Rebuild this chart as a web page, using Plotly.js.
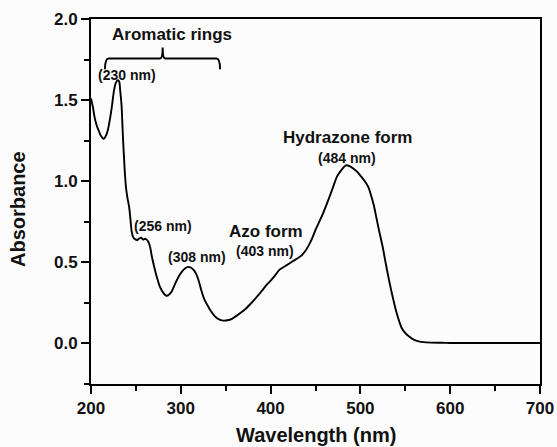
<!DOCTYPE html>
<html>
<head>
<meta charset="utf-8">
<script src="https://cdn.plot.ly/plotly-3.0.1.min.js"></script>
<style>
  html, body { margin: 0; padding: 0; background: #fcfcfc; }
  #chart { width: 557px; height: 447px; }
</style>
</head>
<body>
<div id="chart"></div>
<script>
// UV-Vis absorption spectrum: wavelength (nm) vs absorbance
const wavelength = [
  200, 202, 204, 206, 208, 211, 214, 217, 219, 221, 223, 225.5, 227.5, 230, 231.5,
  232.5, 234, 235.6, 237.5, 239, 240.5, 242.5, 244, 245.3, 247, 249, 251.5, 253.5,
  256, 258, 260, 262, 264, 266, 268, 270.5, 273, 276, 279, 282, 284.3, 287, 290,
  293, 296, 299, 302, 305, 308, 311, 314, 317, 320, 323, 326, 330, 334, 338, 342,
  347, 352, 357, 362, 367, 372, 377, 382, 387, 392, 397, 401, 405, 410, 416, 420,
  425, 430, 434, 438, 442, 446, 450, 455, 459, 464, 469, 474, 479, 482, 484, 488,
  492, 497, 501, 505, 509, 512, 515, 518, 521, 525, 528, 531, 534, 537, 540, 543,
  546, 550, 555, 560, 565, 570, 578, 590, 600, 620, 640, 660, 680, 700
];
const absorbance = [
  1.51, 1.46, 1.395, 1.35, 1.32, 1.28, 1.262, 1.285, 1.32, 1.38, 1.45, 1.555, 1.605, 1.622, 1.612,
  1.56, 1.47, 1.27, 1.07, 0.96, 0.90, 0.84, 0.76, 0.69, 0.655, 0.643, 0.638, 0.646,
  0.652, 0.640, 0.645, 0.640, 0.625, 0.59, 0.53, 0.47, 0.415, 0.36, 0.325, 0.302, 0.294, 0.302, 0.322,
  0.36, 0.395, 0.425, 0.448, 0.463, 0.472, 0.468, 0.455, 0.43, 0.385, 0.325, 0.275, 0.232, 0.195, 0.167, 0.150,
  0.141, 0.143, 0.152, 0.170, 0.190, 0.212, 0.24, 0.27, 0.302, 0.337, 0.37, 0.393, 0.42, 0.455, 0.476, 0.49,
  0.508, 0.525, 0.54, 0.565, 0.60, 0.645, 0.70, 0.76, 0.81, 0.88, 0.955, 1.03, 1.07, 1.09, 1.098, 1.093,
  1.078, 1.055, 1.028, 1.00, 0.962, 0.91, 0.85, 0.77, 0.69, 0.59, 0.50, 0.415, 0.335, 0.262, 0.195, 0.14,
  0.095, 0.063, 0.04, 0.022, 0.013, 0.008, 0.005, 0.004, 0.003, 0.003, 0.003, 0.003, 0.003, 0.003
];

// Band maxima / shoulders that get a "(xxx nm)" label
const bandNm = [230, 256, 308, 403, 484];
// Band assignments
const groupLabels = ['Aromatic rings', 'Azo form', 'Hydrazone form'];

const yTickVals = [0, 0.5, 1.0, 1.5, 2.0];
const yTickText = ['0.0', '0.5', '1.0', '1.5', '2.0'];
const xTickVals = [200, 300, 400, 500, 600, 700];

const FONT = 'Liberation Sans, Arial, Helvetica, sans-serif';

// label anchor points, in axis units
const bandLabelPos = {
  230: [239.8, 1.656],
  256: [280.2, 0.724],
  308: [318.0, 0.532],
  403: [394.3, 0.572],
  484: [485.6, 1.145]
};
const groupLabelPos = {
  'Aromatic rings': [290.2, 1.906],
  'Azo form': [394.9, 0.689],
  'Hydrazone form': [485.1, 1.268]
};

const annotations = [];
bandNm.forEach(nm => {
  const p = bandLabelPos[nm];
  annotations.push({
    x: p[0], y: p[1], xref: 'x', yref: 'y', showarrow: false,
    text: '(' + nm + ' nm)', xanchor: 'center', yanchor: 'middle',
    font: { family: FONT, size: 14, weight: 'bold', color: '#111' }
  });
});
groupLabels.forEach(t => {
  const p = groupLabelPos[t];
  annotations.push({
    x: p[0], y: p[1], xref: 'x', yref: 'y', showarrow: false,
    text: t, xanchor: 'center', yanchor: 'middle',
    font: { family: FONT, size: 17, weight: 'bold', color: '#111' }
  });
});
// axis titles
annotations.push({
  x: 0.501, y: -0.141, xref: 'paper', yref: 'paper', showarrow: false,
  text: 'Wavelength (nm)', xanchor: 'center', yanchor: 'middle',
  font: { family: FONT, size: 20, weight: 'bold', color: '#111' }
});
annotations.push({
  x: -0.163, y: 0.479, xref: 'paper', yref: 'paper', showarrow: false,
  text: 'Absorbance', textangle: -90, xanchor: 'center', yanchor: 'middle',
  font: { family: FONT, size: 20, weight: 'bold', color: '#111' }
});

// curly bracket spanning the aromatic bands
const bx0 = 215.6, bx1 = 343.7, bxc = 279.8;
const byLine = 1.756, byEnd = 1.69, byTip = 1.824;
const bracketPath =
  `M ${bx0},${byEnd} Q ${bx0},${byLine} ${bx0 + 4},${byLine} ` +
  `L ${bxc - 3},${byLine} Q ${bxc},${byLine} ${bxc},${byTip} ` +
  `Q ${bxc},${byLine} ${bxc + 3},${byLine} ` +
  `L ${bx1 - 4},${byLine} Q ${bx1},${byLine} ${bx1},${byEnd}`;

const trace = {
  x: wavelength, y: absorbance, type: 'scatter', mode: 'lines',
  line: { color: '#000', width: 1.9, shape: 'spline', smoothing: 0.6 },
  hoverinfo: 'skip'
};

const layout = {
  width: 557, height: 447,
  margin: { l: 91, r: 17, t: 19, b: 63 },
  paper_bgcolor: '#fcfcfc', plot_bgcolor: '#fcfcfc',
  showlegend: false,
  xaxis: {
    range: [200, 700], tickvals: xTickVals,
    ticks: 'outside', ticklen: 8, tickwidth: 2, tickcolor: '#000',
    showline: true, linewidth: 2, linecolor: '#000', mirror: true,
    showgrid: false, zeroline: false,
    minor: { ticks: 'outside', dtick: 50, tick0: 200, ticklen: 5, tickwidth: 2, tickcolor: '#000', showgrid: false },
    tickfont: { family: FONT, size: 17, weight: 'bold', color: '#111' }
  },
  yaxis: {
    range: [-0.25, 2.0], tickvals: yTickVals, ticktext: yTickText,
    ticks: 'outside', ticklen: 8, tickwidth: 2, tickcolor: '#000',
    showline: true, linewidth: 2, linecolor: '#000', mirror: true,
    showgrid: false, zeroline: false,
    minor: { ticks: 'outside', dtick: 0.25, tick0: 0, ticklen: 5, tickwidth: 2, tickcolor: '#000', showgrid: false },
    tickfont: { family: FONT, size: 17, weight: 'bold', color: '#111' }
  },
  annotations: annotations,
  shapes: [{
    type: 'path', xref: 'x', yref: 'y', path: bracketPath,
    line: { color: '#000', width: 2 }
  }]
};

Plotly.newPlot('chart', [trace], layout, { staticPlot: true, displayModeBar: false });
</script>
</body>
</html>
